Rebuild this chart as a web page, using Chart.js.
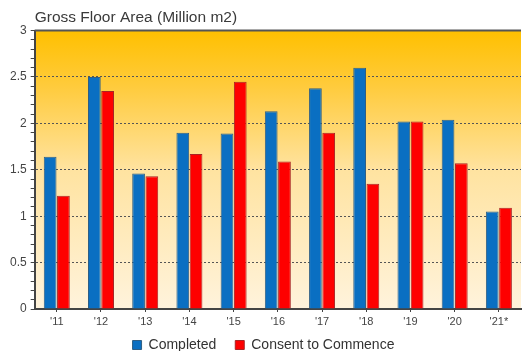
<!DOCTYPE html>
<html>
<head>
<meta charset="utf-8">
<script src="https://cdn.jsdelivr.net/npm/chart.js@4"></script>
<style>
  html, body { margin: 0; padding: 0; background: #fff; }
  #wrap { width: 523px; height: 351px; }
</style>
</head>
<body>
<div id="wrap"><canvas id="chart" width="523" height="351"></canvas></div>
<script>
const years = ["'11", "'12", "'13", "'14", "'15", "'16", "'17", "'18", "'19", "'20", "'21*"];
const completed = [1.64, 2.5, 1.46, 1.9, 1.89, 2.13, 2.38, 2.6, 2.02, 2.04, 1.05];
const consent = [1.22, 2.35, 1.43, 1.67, 2.45, 1.59, 1.9, 1.35, 2.02, 1.57, 1.09];

// gradient fill behind the plot area plus the top frame line
const plotBackground = {
  id: 'plotBackground',
  beforeDraw(chart) {
    const { ctx, chartArea: a } = chart;
    if (!a) return;
    const g = ctx.createLinearGradient(0, a.top, 0, a.bottom);
    g.addColorStop(0, '#ffc000');
    g.addColorStop(0.2, '#ffcb3c');
    g.addColorStop(0.5, '#ffe3a0');
    g.addColorStop(1, '#fff3dc');
    ctx.save();
    ctx.fillStyle = g;
    ctx.fillRect(a.left, a.top, a.right - a.left, a.bottom - a.top);
    ctx.restore();
  },
  afterDraw(chart) {
    const { ctx, chartArea: a } = chart;
    ctx.save();
    ctx.strokeStyle = '#555';
    ctx.lineWidth = 2;
    ctx.beginPath();
    ctx.moveTo(a.left, a.top);
    ctx.lineTo(a.right, a.top);
    ctx.stroke();
    ctx.restore();
  }
};

// wide gaps between legend items but a short legend box
const tightLegend = {
  id: 'tightLegend',
  beforeLayout(chart) {
    const lg = chart.legend;
    if (!lg || lg._tight) return;
    lg._tight = true;
    const fit = lg.fit;
    const draw = lg.draw;
    lg.fit = function () { fit.call(this); this.height -= 23; };
    lg.draw = function () { this.top -= 12; draw.call(this); this.top += 12; };
  }
};

const isMajor = (v) => Math.abs(v * 2 - Math.round(v * 2)) < 1e-6;

new Chart(document.getElementById('chart'), {
  type: 'bar',
  data: {
    labels: years,
    datasets: [
      { label: 'Completed', data: completed, backgroundColor: '#0a6fc2', borderColor: '#2f5f85', borderWidth: 1 },
      { label: 'Consent to Commence', data: consent, backgroundColor: '#fe0000', borderColor: '#a82424', borderWidth: 1 }
    ]
  },
  options: {
    responsive: false,
    animation: false,
    layout: { padding: { left: 6, right: 2, top: 0, bottom: 0 } },
    datasets: { bar: { categoryPercentage: 0.6, barPercentage: 0.96 } },
    plugins: {
      title: {
        display: true,
        fullSize: false,
        text: 'Gross Floor Area (Million m2)',
        align: 'start',
        color: '#3a3a3a',
        font: { family: 'Liberation Sans', size: 15.5, weight: 'normal' },
        padding: { top: 8, bottom: 4 }
      },
      legend: {
        position: 'bottom',
        labels: {
          color: '#333',
          font: { family: 'Liberation Sans', size: 14 },
          boxWidth: 9,
          boxHeight: 9,
          padding: 19
        }
      },
      tooltip: { enabled: false }
    },
    scales: {
      x: {
        grid: { drawOnChartArea: false, offset: false, tickLength: 3, tickColor: '#444' },
        border: { color: '#444', width: 2 },
        ticks: { color: '#444', font: { family: 'Liberation Sans', size: 11, lineHeight: 1 }, padding: 4 }
      },
      y: {
        min: 0,
        max: 3,
        border: { color: '#444', width: 2, dash: [2, 2] },
        grid: {
          color: (c) => isMajor(c.tick.value) && c.tick.value > 0 && c.tick.value < 3 ? '#555' : 'rgba(0,0,0,0)',
          tickColor: '#444',
          tickLength: 4,
          lineWidth: 1
        },
        ticks: {
          stepSize: 0.1,
          autoSkip: false,
          color: '#444',
          font: { family: 'Liberation Sans', size: 12 },
          padding: 4,
          callback: (v) => isMajor(v) ? String(Math.round(v * 10) / 10) : ''
        }
      }
    }
  },
  plugins: [plotBackground, tightLegend]
});
</script>
</body>
</html>
